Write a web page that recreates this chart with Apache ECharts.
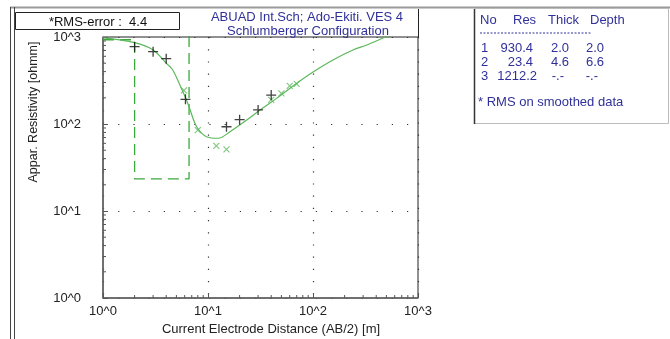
<!DOCTYPE html>
<html>
<head>
<meta charset="utf-8">
<script src="https://cdn.jsdelivr.net/npm/echarts@6/dist/echarts.min.js"></script>
<style>
  html, body { margin: 0; padding: 0; background: #fff; }
  #chart { width: 670px; height: 339px; }
</style>
</head>
<body>
<div id="chart"></div>
<script>
// Field readings (AB/2 in m, apparent resistivity in ohm-m)
const obsAB  = [2.0, 3.0, 4.0, 6.1, 15, 20, 30, 40];
const obsRho = [774, 678, 564, 192, 93, 112, 145, 215];

// Smoothed readings
const smAB  = [5.9, 8.0, 12, 15, 40, 50, 60, 70];
const smRho = [243, 85, 56, 51, 189, 225, 275, 290];

// Calculated sounding curve of the layered model
const modelAB  = [1, 2.0, 3.0, 4.0, 4.6, 5.5, 6.2, 6.7, 7.8, 9.8, 12.5, 16.2, 23.4, 31.3, 45, 70, 101, 155, 240, 325, 485, 600];
const modelRho = [975, 860, 710, 500, 420, 266, 192, 150, 93, 71, 68.6, 81.5, 111, 145, 197, 294, 399, 545, 709, 809, 993, 1100];

// Interpreted layers
const layerNo    = ['1', '2', '3'];
const layerRes   = [930.4, 23.4, 1212.2];
const layerThick = [2.0, 4.6];
const layerDepth = [2.0, 6.6];

const rmsError = 4.4;
const axisTicks = [1, 10, 100, 1000];
const minorSteps = [2, 3, 4, 5, 6, 7, 8, 9];

const pairs = (xs, ys) => xs.map((x, i) => [x, ys[i]]);

// Step profile of the layered model (resistivity vs depth)
const stepLine = [];
let layerTop = 1;
layerRes.forEach((r, i) => {
  const layerBottom = i < layerDepth.length ? layerDepth[i] : 1000;
  stepLine.push([layerTop, r], [layerBottom, r]);
  layerTop = layerBottom;
});

// Minor tick values inside each decade
const minorVals = [];
axisTicks.slice(0, -1).forEach(d => minorSteps.forEach(s => minorVals.push(d * s)));

const fmtPow = v => '10^' + Math.round(Math.log10(v));
const blue = '#30309a';
const fontFam = '"Liberation Sans", Arial, sans-serif';
const f13 = '13px ' + fontFam;

const plusPath = 'path://M0,4.35H10V5.65H0Z M4.35,0H5.65V10H4.35Z';

const chart = echarts.init(document.getElementById('chart'), null, { renderer: 'canvas' });

function fmtNum(v) { return v.toFixed(1); }

const tableRows = layerNo.map((n, i) => ({
  no: n,
  res: fmtNum(layerRes[i]),
  thick: i < layerThick.length ? fmtNum(layerThick[i]) : '-.-',
  depth: i < layerDepth.length ? fmtNum(layerDepth[i]) : '-.-'
}));

const tableGraphics = [];
const rowY = [48, 62, 76];
tableRows.forEach((r, i) => {
  const y = rowY[i];
  tableGraphics.push(
    { type: 'text', x: 481, y: y, style: { text: r.no, font: f13, fill: blue, textVerticalAlign: 'middle' } },
    { type: 'text', x: i === 2 ? 537 : 533, y: y, style: { text: r.res, font: f13, fill: blue, textAlign: 'right', textVerticalAlign: 'middle' } },
    { type: 'text', x: i === 2 ? 564 : 569, y: y, style: { text: r.thick, font: f13, fill: blue, textAlign: 'right', textVerticalAlign: 'middle' } },
    { type: 'text', x: i === 2 ? 598 : 604, y: y, style: { text: r.depth, font: f13, fill: blue, textAlign: 'right', textVerticalAlign: 'middle' } }
  );
});

const option = {
  backgroundColor: '#ffffff',
  animation: false,
  textStyle: { fontFamily: fontFam },
  grid: {
    left: 103, top: 37, width: 315, height: 261,
    show: true, borderColor: '#222', borderWidth: 1, backgroundColor: 'transparent'
  },
  xAxis: {
    type: 'log', logBase: 10, min: 1, max: 1000,
    axisLine: { show: true, lineStyle: { color: '#666', width: 1.5 } },
    axisTick: { show: true, inside: true, length: 5, lineStyle: { color: '#555' } },
    axisLabel: { formatter: fmtPow, color: '#222', fontSize: 13, margin: 7, showMinLabel: true, showMaxLabel: true },
    splitLine: { show: true, lineStyle: { color: '#333', width: 1.2, type: [1.2, 11] } }
  },
  yAxis: {
    type: 'log', logBase: 10, min: 1, max: 1000,
    axisLine: { show: true, lineStyle: { color: '#666', width: 1.5 } },
    axisTick: { show: true, inside: true, length: 5, lineStyle: { color: '#555' } },
    axisLabel: { formatter: fmtPow, color: '#222', fontSize: 13, margin: 22 },
    splitLine: { show: true, lineStyle: { color: '#333', width: 1.2, type: [1.2, 14] } }
  },
  series: [
    {
      name: 'minorX', type: 'custom', silent: true, clip: false,
      data: minorVals.map(v => [v, 1]),
      renderItem: (params, api) => {
        const p = api.coord([api.value(0), api.value(1)]);
        return { type: 'line', shape: { x1: p[0], y1: p[1], x2: p[0], y2: p[1] - 3 }, style: { stroke: '#555', lineWidth: 1 } };
      }
    },
    {
      name: 'minorY', type: 'custom', silent: true, clip: false,
      data: minorVals.map(v => [1, v]),
      renderItem: (params, api) => {
        const p = api.coord([api.value(0), api.value(1)]);
        return { type: 'line', shape: { x1: p[0], y1: p[1], x2: p[0] + 3, y2: p[1] }, style: { stroke: '#555', lineWidth: 1 } };
      }
    },
    {
      name: 'Model', type: 'line', data: stepLine, showSymbol: false, clip: true,
      lineStyle: { color: '#3aa83a', width: 1.3, type: [11, 6] }, z: 3
    },
    {
      name: 'Calculated', type: 'line', data: pairs(modelAB, modelRho), smooth: 0.35,
      showSymbol: false, clip: true,
      lineStyle: { color: '#5cb85c', width: 1.2 }, z: 4
    },
    {
      name: 'Smoothed', type: 'scatter', data: pairs(smAB, smRho),
      symbol: plusPath, symbolSize: 8.5, symbolRotate: 45,
      itemStyle: { color: '#5cb85c' }, z: 5
    },
    {
      name: 'Field', type: 'scatter', data: pairs(obsAB, obsRho),
      symbol: plusPath, symbolSize: 10,
      itemStyle: { color: '#111' }, z: 6
    }
  ],
  graphic: [
    // outer frame
    { type: 'line', shape: { x1: 10, y1: 7.5, x2: 670, y2: 7.5 }, style: { stroke: '#999', lineWidth: 2 } },
    { type: 'line', shape: { x1: 10.5, y1: 7, x2: 10.5, y2: 339 }, style: { stroke: '#444', lineWidth: 1 } },
    { type: 'line', shape: { x1: 14.5, y1: 7, x2: 14.5, y2: 339 }, style: { stroke: '#444', lineWidth: 1 } },
    { type: 'line', shape: { x1: 418.5, y1: 9, x2: 418.5, y2: 37 }, style: { stroke: '#222', lineWidth: 1 } },
    // RMS box
    { type: 'rect', shape: { x: 15.5, y: 12.5, width: 164, height: 17 }, style: { fill: 'none', stroke: '#222', lineWidth: 1 } },
    { type: 'text', x: 98, y: 22, style: { text: '*RMS-error :  ' + rmsError.toFixed(1), font: f13, fill: '#111', textAlign: 'center', textVerticalAlign: 'middle' } },
    // title
    { type: 'text', x: 307, y: 17, style: { text: 'ABUAD Int.Sch; Ado-Ekiti. VES 4', font: f13, fill: blue, textAlign: 'center', textVerticalAlign: 'middle' } },
    { type: 'text', x: 308, y: 31, style: { text: 'Schlumberger Configuration', font: f13, fill: blue, textAlign: 'center', textVerticalAlign: 'middle' } },
    // axis names
    { type: 'text', x: 271, y: 329, style: { text: 'Current Electrode Distance (AB/2) [m]', font: f13, fill: '#222', textAlign: 'center', textVerticalAlign: 'middle' } },
    { type: 'text', x: 34, y: 112, rotation: Math.PI / 2, style: { text: 'Appar. Resistivity [ohmm]', font: '12.5px ' + fontFam, fill: '#222', textAlign: 'center', textVerticalAlign: 'middle' } },
    // layer table panel
    { type: 'rect', shape: { x: 474.5, y: 8.5, width: 194, height: 115 }, style: { fill: 'none', stroke: '#bbb', lineWidth: 1 } },
    { type: 'line', shape: { x1: 474.5, y1: 9, x2: 474.5, y2: 124 }, style: { stroke: '#333', lineWidth: 1.5 } },
    { type: 'text', x: 480, y: 20, style: { text: 'No', font: f13, fill: blue, textVerticalAlign: 'middle' } },
    { type: 'text', x: 513, y: 20, style: { text: 'Res', font: f13, fill: blue, textVerticalAlign: 'middle' } },
    { type: 'text', x: 548, y: 20, style: { text: 'Thick', font: f13, fill: blue, textVerticalAlign: 'middle' } },
    { type: 'text', x: 590, y: 20, style: { text: 'Depth', font: f13, fill: blue, textVerticalAlign: 'middle' } },
    { type: 'line', shape: { x1: 480, y1: 33, x2: 592, y2: 33 }, style: { stroke: blue, lineWidth: 1, lineDash: [2, 1.5] } },
    ...tableGraphics,
    { type: 'text', x: 478, y: 102, style: { text: '* RMS on smoothed data', font: f13, fill: blue, textVerticalAlign: 'middle' } }
  ]
};

chart.setOption(option);
</script>
</body>
</html>
